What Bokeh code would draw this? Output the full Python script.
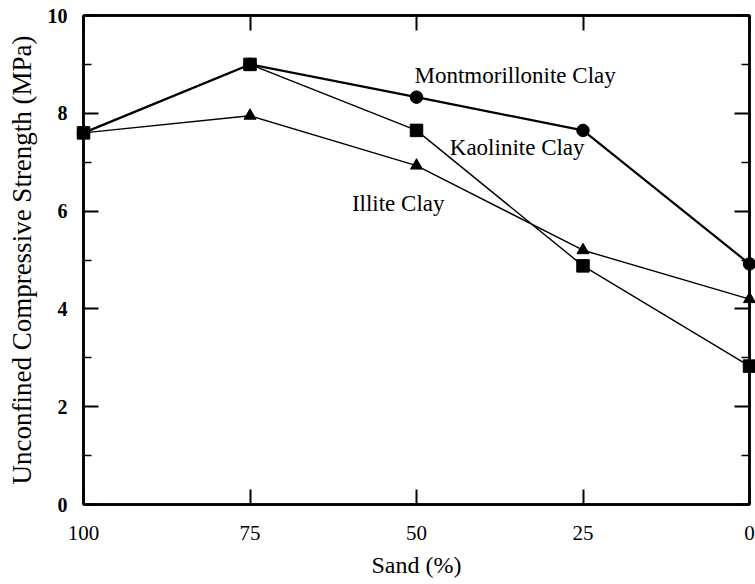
from bokeh.plotting import figure
from bokeh.models import Range1d, LinearAxis, FixedTicker, Label
from bokeh.embed import file_html
from bokeh.resources import INLINE

# Unconfined compressive strength of sand-clay mixtures
sand_pct = [100, 75, 50, 25, 0]
montmorillonite = [7.6, 9.0, 8.33, 7.65, 4.92]
kaolinite = [7.6, 9.0, 7.65, 4.88, 2.83]
illite = [7.6, 7.95, 6.93, 5.2, 4.2]

x_ticks = [100, 75, 50, 25, 0]
y_ticks = [0, 2, 4, 6, 8, 10]
y_minor_ticks = [1, 3, 5, 7, 9]

FONT = "Liberation Serif"

p = figure(
    width=755, height=584,
    x_range=Range1d(100, 0), y_range=Range1d(0, 10),
    output_backend="svg", toolbar_location=None,
    min_border_left=83, min_border_right=6,
    min_border_top=15, min_border_bottom=80,
    x_axis_label="Sand (%)",
    y_axis_label="Unconfined Compressive Strength (MPa)",
)
p.background_fill_color = "white"
p.border_fill_color = "white"
p.xgrid.visible = False
p.ygrid.visible = False
p.outline_line_color = "black"
p.outline_line_width = 2.5

xt = FixedTicker(ticks=x_ticks, minor_ticks=[])
yt = FixedTicker(ticks=y_ticks, minor_ticks=y_minor_ticks)

def style_axis(ax, show_labels):
    ax.axis_line_color = "black"
    ax.axis_line_width = 2.5
    ax.major_tick_line_color = "black"
    ax.major_tick_line_width = 2
    ax.minor_tick_line_color = "black"
    ax.minor_tick_line_width = 1.5
    ax.major_tick_in = 15
    ax.major_tick_out = 0
    ax.minor_tick_in = 8
    ax.minor_tick_out = 0
    ax.major_label_text_font = FONT
    ax.major_label_text_color = "black"
    ax.axis_label_text_font = FONT
    ax.axis_label_text_font_style = "normal"
    ax.axis_label_text_color = "black"
    if not show_labels:
        # tick marks only on the mirrored sides
        ax.major_label_text_color = None
        ax.major_label_text_font_size = "1px"
        ax.major_label_standoff = 0

p.xaxis.ticker = xt
p.yaxis.ticker = yt
style_axis(p.xaxis[0], True)
style_axis(p.yaxis[0], True)
p.xaxis.major_label_text_font_size = "21px"
p.xaxis.major_label_standoff = 21
p.xaxis.axis_label_text_font_size = "24px"
p.xaxis.axis_label_standoff = 9
p.yaxis.major_label_text_font_size = "20px"
p.yaxis.major_label_text_font_style = "bold"
p.yaxis.major_label_standoff = 16
p.yaxis.axis_label_text_font_size = "27px"
p.yaxis.axis_label_standoff = 8

top_axis = LinearAxis(ticker=FixedTicker(ticks=x_ticks, minor_ticks=[]))
style_axis(top_axis, False)
p.add_layout(top_axis, "above")
right_axis = LinearAxis(ticker=FixedTicker(ticks=y_ticks, minor_ticks=y_minor_ticks))
style_axis(right_axis, False)
p.add_layout(right_axis, "right")

# Series: lines then markers, drawn unclipped so edge markers overlap the frame
m_line = p.line(sand_pct, montmorillonite, line_color="black", line_width=2.2)
m_pts = p.scatter(sand_pct, montmorillonite, marker="circle", size=12.5,
                  fill_color="black", line_color="black")
i_line = p.line(sand_pct, illite, line_color="black", line_width=1.4)
i_pts = p.scatter(sand_pct, illite, marker="triangle", size=12,
                  fill_color="black", line_color="black")
k_line = p.line(sand_pct, kaolinite, line_color="black", line_width=1.4)
k_pts = p.scatter(sand_pct, kaolinite, marker="square", size=12.5,
                  fill_color="black", line_color="black")
for r in (m_line, m_pts, i_line, i_pts, k_line, k_pts):
    r.level = "overlay"

for txt, lx, ly in [("Montmorillonite Clay", 50.3, 8.78),
                    ("Kaolinite Clay", 45.0, 7.31),
                    ("Illite Clay", 59.7, 6.16)]:
    p.add_layout(Label(x=lx, y=ly, text=txt, text_font=FONT,
                       text_font_size="23px", text_color="black",
                       text_align="left", text_baseline="middle"))

open("out.html", "w").write(file_html(p, INLINE))
